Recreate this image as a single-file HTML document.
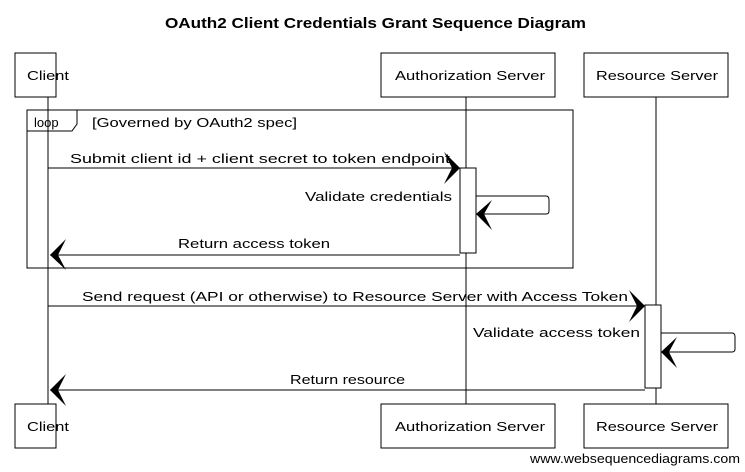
<!DOCTYPE html>
<html><head><meta charset="utf-8"><style>
body{margin:0;background:#fff;}
svg{display:block}
text{font-family:"Liberation Sans",sans-serif;fill:#000;}
</style></head><body>
<svg width="745" height="472" viewBox="0 0 745 472" xmlns="http://www.w3.org/2000/svg">
<g stroke="#000" fill="none" stroke-width="1">
<line x1="48" y1="97" x2="48" y2="404"/>
<line x1="466" y1="97" x2="466" y2="404"/>
<line x1="656" y1="97" x2="656" y2="404"/>
<rect x="15" y="53" width="41" height="44" fill="#fff"/>
<rect x="381" y="53" width="174" height="44" fill="#fff"/>
<rect x="584" y="53" width="144" height="44" fill="#fff"/>
<rect x="15" y="404" width="41" height="44" fill="#fff"/>
<rect x="381" y="404" width="174" height="44" fill="#fff"/>
<rect x="584" y="404" width="144" height="44" fill="#fff"/>
<rect x="27" y="110" width="546" height="158"/>
<path d="M27 131 H72 L77 124 V110"/>
<rect x="460" y="168" width="16" height="85" fill="#fff"/>
<rect x="645" y="305" width="16" height="83" fill="#fff"/>
<line x1="48" y1="168" x2="458" y2="168"/>
<path d="M476 196 H546 Q549 196 549 200 V211 Q549 214 546 214 H478"/>
<line x1="460" y1="255" x2="50" y2="255"/>
<line x1="48" y1="306" x2="643" y2="306"/>
<path d="M661 333 H732 Q735 333 735 337 V349 Q735 352 732 352 H663"/>
<line x1="645" y1="390" x2="50" y2="390"/>
</g>
<g fill="#000">
<path d="M460 168 L444 152 L452 168 L444 184 Z"/>
<path d="M476 214 L492 200 L484 214 L492 230 Z"/>
<path d="M50 255 L66 239 L58 255 L66 270 Z"/>
<path d="M645 306 L629 290 L637 306 L629 322 Z"/>
<path d="M661 352 L677 337 L669 352 L677 368 Z"/>
<path d="M50 390 L66 374 L58 390 L66 406 Z"/>
</g>
<text x="165" y="28" font-size="15" font-weight="bold" textLength="421" lengthAdjust="spacingAndGlyphs">OAuth2 Client Credentials Grant Sequence Diagram</text>
<g font-size="13">
<text x="27" y="80" textLength="42" lengthAdjust="spacingAndGlyphs">Client</text>
<text x="395" y="80" textLength="150" lengthAdjust="spacingAndGlyphs">Authorization Server</text>
<text x="596" y="80" textLength="122" lengthAdjust="spacingAndGlyphs">Resource Server</text>
<text x="27" y="431" textLength="42" lengthAdjust="spacingAndGlyphs">Client</text>
<text x="395" y="431" textLength="150" lengthAdjust="spacingAndGlyphs">Authorization Server</text>
<text x="596" y="431" textLength="122" lengthAdjust="spacingAndGlyphs">Resource Server</text>
<text x="34" y="127">loop</text>
<text x="92" y="127" textLength="205" lengthAdjust="spacingAndGlyphs">[Governed by OAuth2 spec]</text>
<text x="70" y="163" textLength="380" lengthAdjust="spacingAndGlyphs">Submit client id + client secret to token endpoint</text>
<text x="305" y="201" textLength="147" lengthAdjust="spacingAndGlyphs">Validate credentials</text>
<text x="178" y="248" textLength="152" lengthAdjust="spacingAndGlyphs">Return access token</text>
<text x="82" y="301" textLength="546" lengthAdjust="spacingAndGlyphs">Send request (API or otherwise) to Resource Server with Access Token</text>
<text x="473" y="337" textLength="167" lengthAdjust="spacingAndGlyphs">Validate access token</text>
<text x="290" y="384" textLength="115" lengthAdjust="spacingAndGlyphs">Return resource</text>
</g>
<text x="740" y="463" font-size="13" text-anchor="end" textLength="210" lengthAdjust="spacingAndGlyphs">www.websequencediagrams.com</text>
</svg>
</body></html>
